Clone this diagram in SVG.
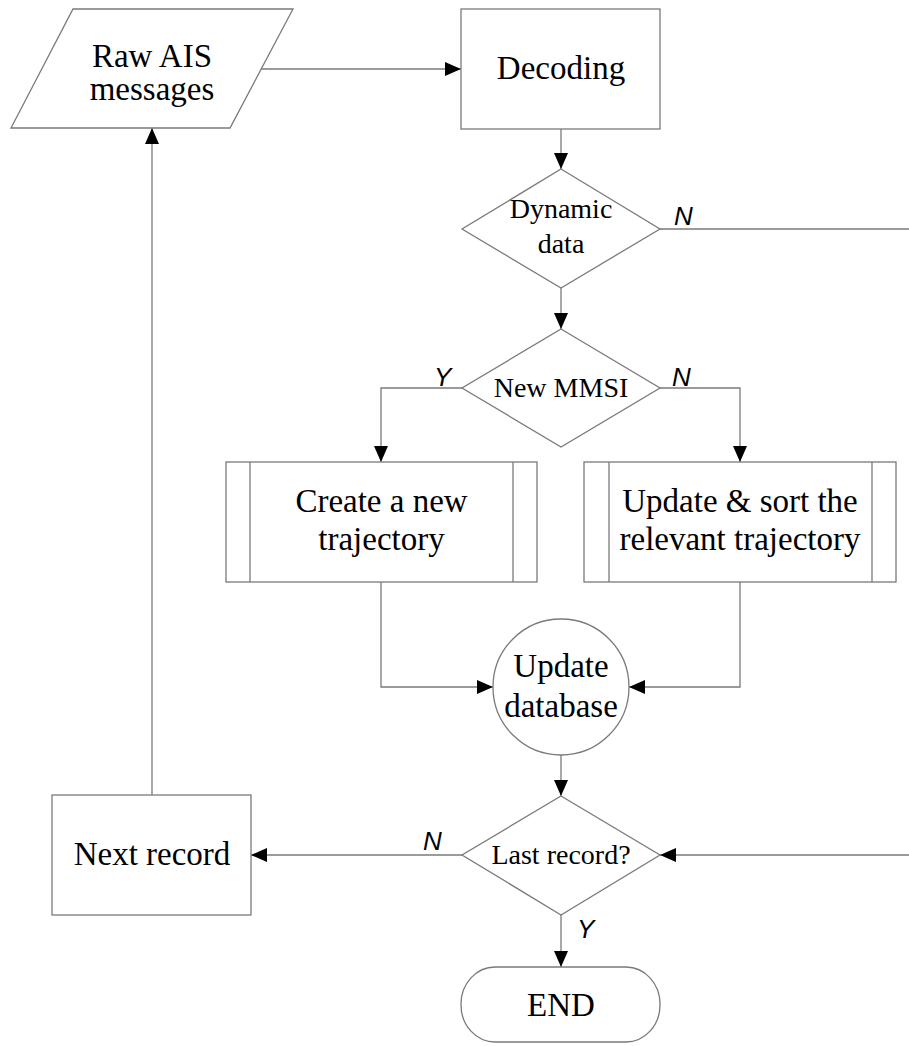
<svg xmlns="http://www.w3.org/2000/svg" width="909" height="1046" viewBox="0 0 909 1046">
<style>
.shape{fill:#fff;stroke:#7a7a7a;stroke-width:1.3}
.conn{fill:none;stroke:#7a7a7a;stroke-width:1.3}
.t{font-family:"Liberation Serif","Times New Roman",serif;font-size:33px;fill:#000;text-anchor:middle}
.d{font-family:"Liberation Serif","Times New Roman",serif;font-size:28px;fill:#000;text-anchor:middle}
.lab{font-family:"Liberation Sans",Arial,sans-serif;font-style:italic;font-size:26px;fill:#000}
</style>
<defs>
<marker id="arr" markerUnits="userSpaceOnUse" markerWidth="16" markerHeight="16" viewBox="0 0 16 16" refX="16" refY="8" orient="auto">
<path d="M0,1 L16,8 L0,15 Z" fill="#000"/>
</marker>
</defs>
<rect width="909" height="1046" fill="#fff"/>
<g id="connectors">
<path class="conn" d="M261,69 H461" marker-end="url(#arr)"/>
<path class="conn" d="M561,129 V169" marker-end="url(#arr)"/>
<path class="conn" d="M660,229 H915 V855 H660" marker-end="url(#arr)"/>
<path class="conn" d="M561,288 V329" marker-end="url(#arr)"/>
<path class="conn" d="M462,388 H381 V462" marker-end="url(#arr)"/>
<path class="conn" d="M660,388 H740 V462" marker-end="url(#arr)"/>
<path class="conn" d="M381,582 V687 H493" marker-end="url(#arr)"/>
<path class="conn" d="M740,582 V687 H629" marker-end="url(#arr)"/>
<path class="conn" d="M561,755 V796" marker-end="url(#arr)"/>
<path class="conn" d="M462,855 H251" marker-end="url(#arr)"/>
<path class="conn" d="M561,915 V967" marker-end="url(#arr)"/>
<path class="conn" d="M152,795 V128" marker-end="url(#arr)"/>
<text class="lab" x="674" y="225">N</text>
<text class="lab" x="434" y="386">Y</text>
<text class="lab" x="672" y="386">N</text>
<text class="lab" x="423" y="850">N</text>
<text class="lab" x="577" y="938">Y</text>
</g>
<g id="raw-ais">
<polygon class="shape" points="73,9 293,9 230,128 11,128"/>
<text class="t" x="152" y="67">Raw AIS</text>
<text class="t" x="152" y="100">messages</text>
</g>
<g id="decoding">
<rect class="shape" x="461" y="9" width="199" height="120"/>
<text class="t" x="561" y="79">Decoding</text>
</g>
<g id="dynamic-data">
<polygon class="shape" points="561,169 660,229 561,288 462,229"/>
<text class="d" x="561" y="218">Dynamic</text>
<text class="d" x="561" y="253">data</text>
</g>
<g id="new-mmsi">
<polygon class="shape" points="561,329 660,388 561,447 462,388"/>
<text class="d" x="561" y="397">New MMSI</text>
</g>
<g id="create-trajectory">
<rect class="shape" x="226" y="462" width="311" height="120"/>
<line class="shape" x1="250" y1="462" x2="250" y2="582"/>
<line class="shape" x1="513" y1="462" x2="513" y2="582"/>
<text class="t" x="381.5" y="512">Create a new</text>
<text class="t" x="381.5" y="550">trajectory</text>
</g>
<g id="update-trajectory">
<rect class="shape" x="584" y="462" width="312" height="120"/>
<line class="shape" x1="609" y1="462" x2="609" y2="582"/>
<line class="shape" x1="872" y1="462" x2="872" y2="582"/>
<text class="t" x="740" y="512">Update &amp; sort the</text>
<text class="t" x="740" y="550">relevant trajectory</text>
</g>
<g id="update-database">
<circle class="shape" cx="561" cy="687" r="68"/>
<text class="t" x="561" y="677">Update</text>
<text class="t" x="561" y="717">database</text>
</g>
<g id="last-record">
<polygon class="shape" points="561,796 660,855 561,915 462,855"/>
<text class="d" x="561" y="864">Last record?</text>
</g>
<g id="next-record">
<rect class="shape" x="52" y="795" width="199" height="120"/>
<text class="t" x="152" y="865">Next record</text>
</g>
<g id="end">
<rect class="shape" x="461" y="967" width="199" height="75" rx="34" ry="37"/>
<text class="t" x="561" y="1016">END</text>
</g>
</svg>
